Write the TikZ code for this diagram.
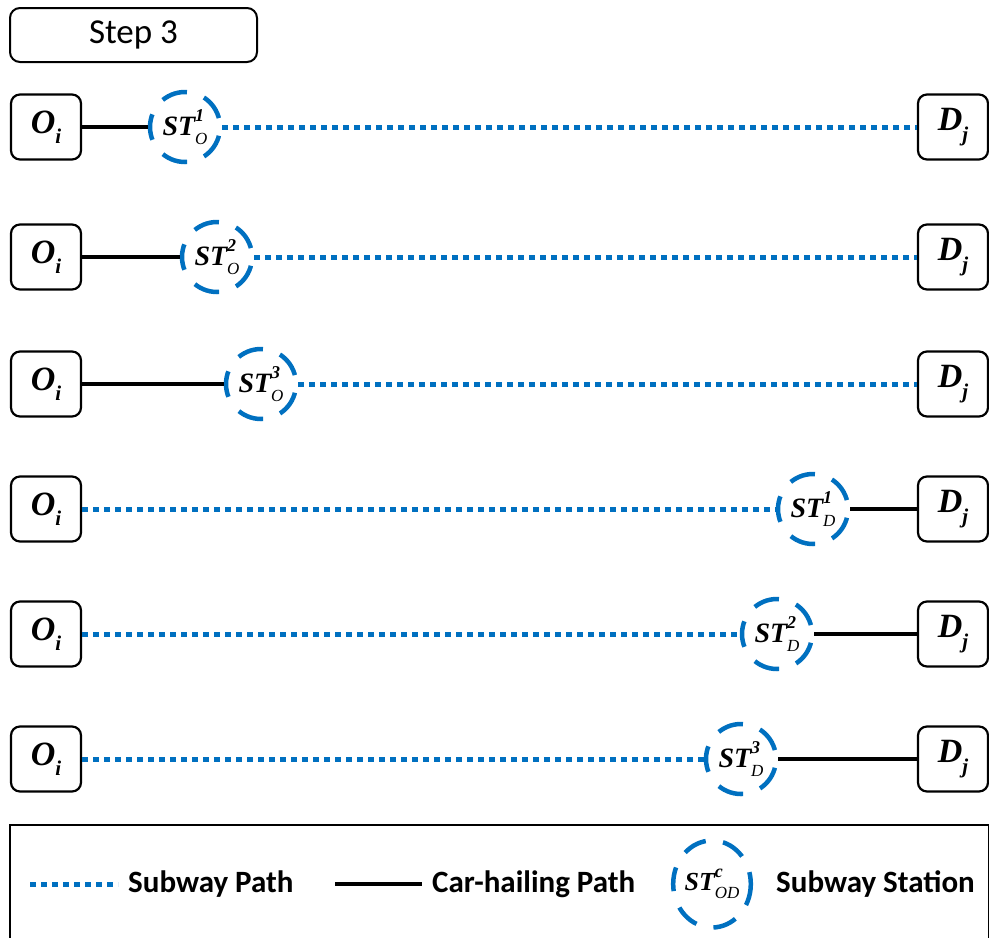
\documentclass[tikz,border=0pt]{standalone}
\usepackage{fontspec}
\setsansfont{Carlito}
\newfontfamily\sbi{Liberation Serif}
\usetikzlibrary{shapes.geometric}
\definecolor{sub}{RGB}{0,112,192}
\newcommand\stlab[2]{{\sbi\bfseries\itshape ST\makebox[0pt][l]{\raisebox{0.5em}{\fontsize{18}{18}\selectfont #2}}\raisebox{-0.3em}{\fontsize{17}{17}\selectfont\mdseries #1}}}
\newcommand\odlab[2]{{\sbi\bfseries\itshape #1\raisebox{-0.3em}{\fontsize{21}{21}\selectfont #2}}}
\tikzset{
  endbox/.style={draw, line width=2.2pt, rounded corners=9pt, minimum width=70pt, minimum height=65pt, inner sep=0pt, font=\fontsize{34}{36}\selectfont},
  stn/.style={circle, draw=sub, line width=4.5pt, dash pattern=on 26pt off 18pt, dash phase=35pt, minimum size=70pt, inner sep=0pt, font=\fontsize{28}{30}\selectfont},
  subway/.style={draw=sub, line width=5pt, dash pattern=on 6pt off 5pt},
  car/.style={draw=black, line width=4pt},
  legtext/.style={font=\sffamily\bfseries\fontsize{31}{33}\selectfont, anchor=west, inner sep=0pt},
}
\begin{document}
\begin{tikzpicture}[x=1pt,y=-1pt]
\useasboundingbox (0,0) rectangle (989,938);
\node[draw, line width=2pt, rounded corners=10pt, minimum width=247pt, minimum height=54pt, font=\sffamily\fontsize{35}{37}\selectfont] (step) at (133.5,35) {Step 3};
% rows
\foreach \i/\y/\sx/\lo/\hi in {1/127/185/O/1, 2/257/217/O/2, 3/384/261/O/3}{
  \node[endbox] (o\i) at (46,\y) {\odlab{O}{i}};
  \node[endbox] (d\i) at (953,\y) {\odlab{D}{j}};
  \node[stn] (s\i) at (\sx,\y) {\stlab{\lo}{\hi}};
  \draw[car] (o\i.east) -- (s\i.west);
  \draw[subway] (s\i.east) -- (d\i.west);
}
\foreach \i/\y/\sx/\lo/\hi in {4/509/813/D/1, 5/634/777/D/2, 6/759/741/D/3}{
  \node[endbox] (o\i) at (46,\y) {\odlab{O}{i}};
  \node[endbox] (d\i) at (953,\y) {\odlab{D}{j}};
  \node[stn] (s\i) at (\sx,\y) {\stlab{\lo}{\hi}};
  \draw[subway] (o\i.east) -- (s\i.west);
  \draw[car] (s\i.east) -- (d\i.west);
}
% legend
\node[draw, line width=2pt, minimum width=979pt, minimum height=115pt, inner sep=0pt] (leg) at (499.5,882.5) {};
\coordinate (l1a) at (30,884);
\coordinate (l1b) at (118,884);
\draw[subway] (l1a) -- (l1b);
\node[legtext] (t1) at (128,884) {Subway Path};
\coordinate (l2a) at (335,884);
\coordinate (l2b) at (422,884);
\draw[car] (l2a) -- (l2b);
\node[legtext] (t2) at (432,884) {Car-hailing Path};
\node[ellipse, draw=sub, line width=4.5pt, dash pattern=on 24pt off 17.5pt, dash phase=12pt, minimum width=70pt, minimum height=87pt, inner sep=0pt, font=\fontsize{26}{28}\selectfont] (ls) at (712,884) {\stlab{OD}{c}};
\node[legtext] (t3) at (776,884) {Subway Station};
\end{tikzpicture}
\end{document}
